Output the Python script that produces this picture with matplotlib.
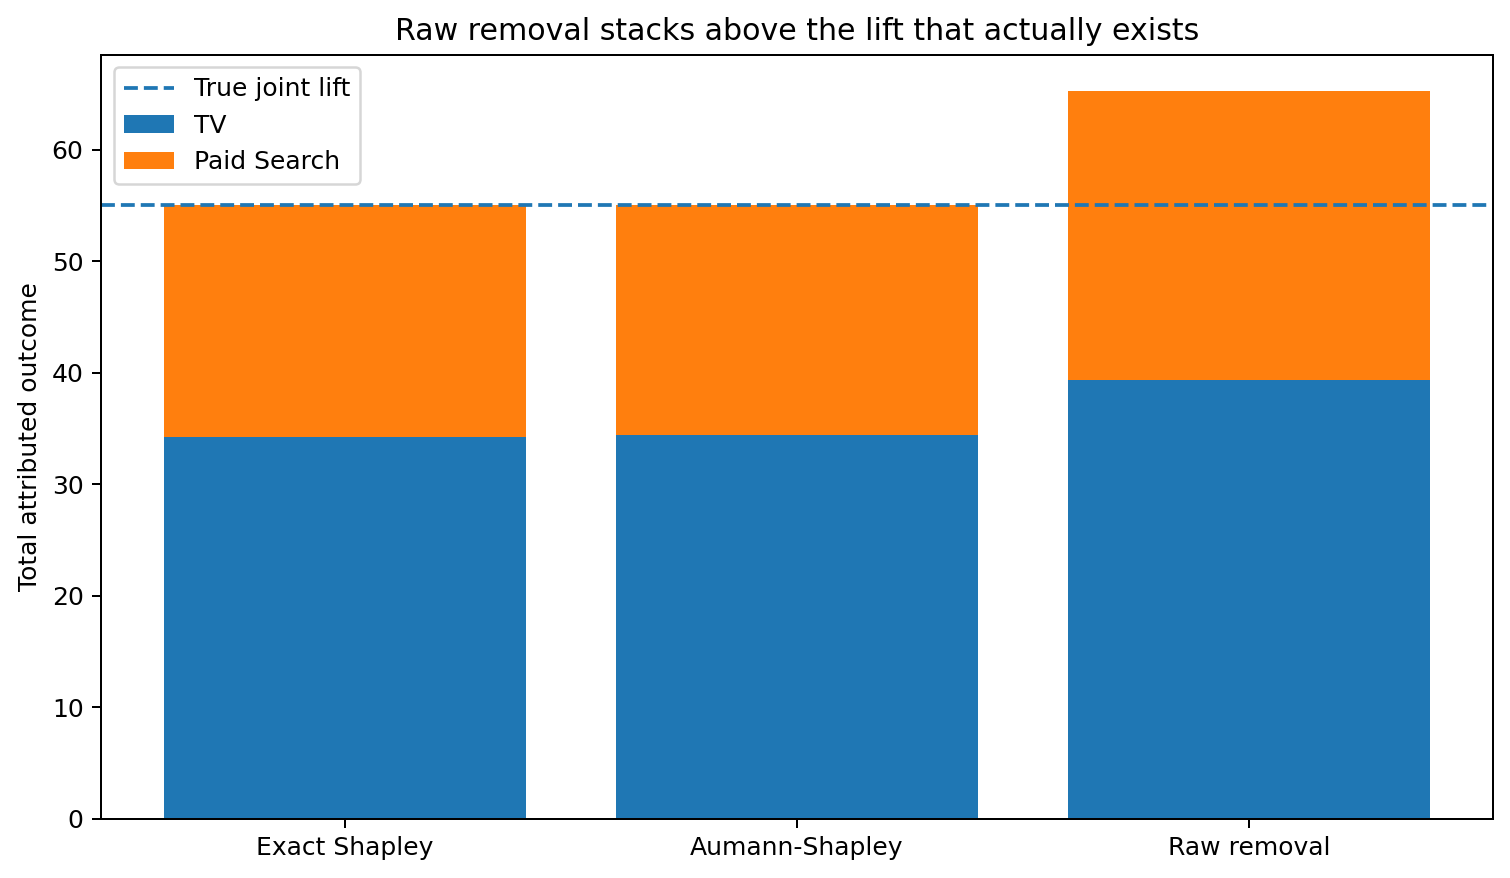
import matplotlib
matplotlib.use("Agg")
import matplotlib.pyplot as plt
import numpy as np

methods = ["Exact Shapley", "Aumann-Shapley", "Raw removal"]
tv = [34.25, 34.45, 39.4]
paid_search = [20.85, 20.65, 25.85]
true_joint_lift = 55.1

fig = plt.figure(figsize=(1510 / 180, 878 / 180), dpi=180)
ax = fig.add_axes([0.0669, 0.0672, 0.9218, 0.8702])
x = np.arange(len(methods))
ax.axhline(true_joint_lift, linestyle="--", color="C0", linewidth=1.5, label="True joint lift")
ax.bar(x, tv, color="C0", label="TV")
ax.bar(x, paid_search, bottom=tv, color="C1", label="Paid Search")
ax.set_xticks(x)
ax.set_xticklabels(methods)
ax.set_ylabel("Total attributed outcome")
ax.set_title("Raw removal stacks above the lift that actually exists")
ax.legend(loc="upper left")
fig.savefig("out.png", dpi=180)
